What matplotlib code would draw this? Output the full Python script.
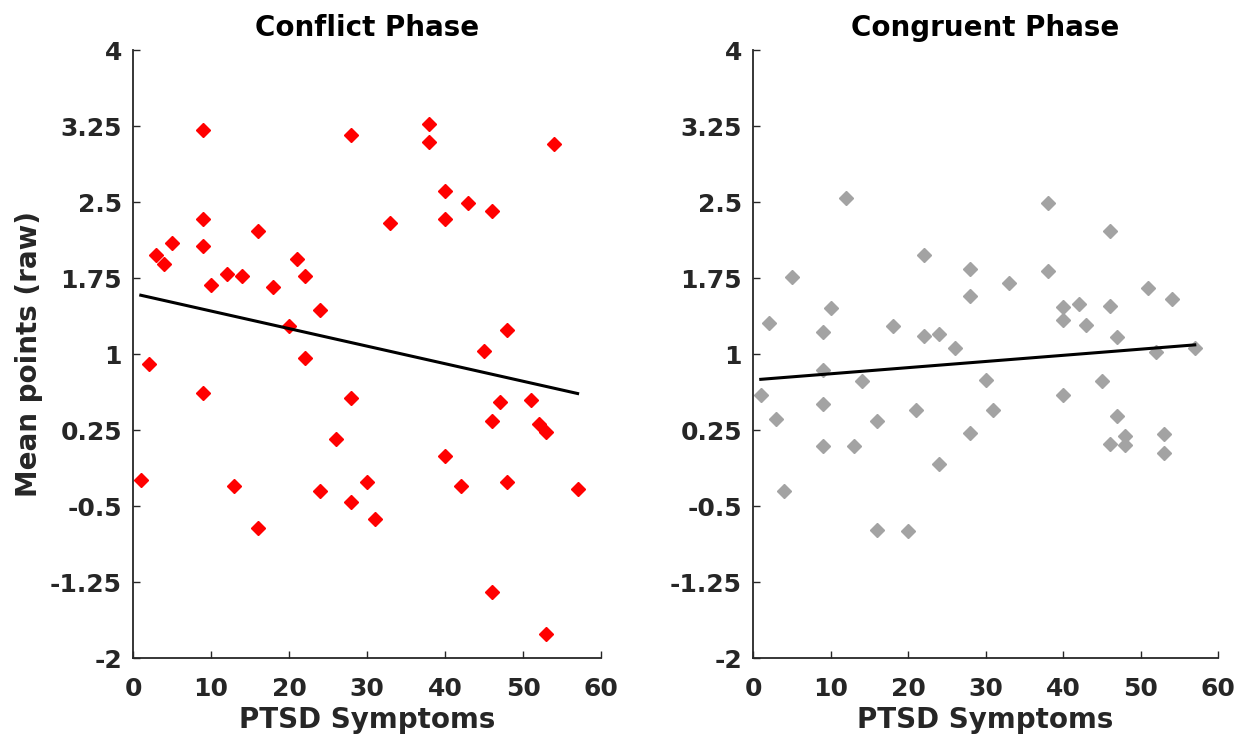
import matplotlib
matplotlib.use("Agg")
import matplotlib.pyplot as plt
import numpy as np

# Conflict phase data
conflict_x = [1, 2, 3, 4, 5, 9, 9, 9, 9, 10, 12, 13, 14, 16, 16, 18, 20, 21, 22, 22,
              24, 24, 26, 28, 28, 28, 30, 31, 33, 38, 38, 40, 40, 40, 42, 43, 45, 46, 46, 46,
              47, 48, 48, 51, 52, 53, 53, 54, 57]
conflict_y = [-0.24, 0.90, 1.98, 1.89, 2.10, 3.21, 2.33, 2.07, 0.62, 1.68, 1.79, -0.30, 1.77, 2.21, -0.72, 1.66, 1.28, 1.94, 1.77, 0.96,
              1.43, -0.35, 0.16, 3.16, 0.57, -0.46, -0.26, -0.63, 2.29, 3.27, 3.09, 2.61, 2.33, -0.01, -0.30, 2.49, 1.03, 2.41, 0.34, -1.35,
              0.53, 1.24, -0.26, 0.55, 0.31, 0.23, -1.76, 3.07, -0.33]

# Congruent phase data
congruent_x = [1, 2, 3, 4, 5, 9, 9, 9, 9, 10, 12, 13, 14, 16, 16, 18, 20, 21, 22, 22,
               24, 24, 26, 28, 28, 28, 30, 31, 33, 38, 38, 40, 40, 40, 42, 43, 45, 46, 46, 46,
               47, 47, 48, 48, 51, 52, 53, 53, 54, 57]
congruent_y = [0.60, 1.31, 0.36, -0.35, 1.76, 1.22, 0.84, 0.51, 0.09, 1.45, 2.54, 0.09, 0.73, 0.34, -0.74, 1.28, -0.75, 0.45, 1.98, 1.18,
               1.20, -0.09, 1.06, 1.84, 1.57, 0.22, 0.74, 0.45, 1.70, 2.49, 1.82, 1.46, 1.34, 0.60, 1.49, 1.29, 0.73, 2.21, 1.47, 0.11,
               1.17, 0.39, 0.19, 0.10, 1.65, 1.02, 0.21, 0.02, 1.54, 1.06]

# Fitted regression lines (endpoints)
fit_x = [1, 57]
conflict_fit_y = [1.58, 0.61]
congruent_fit_y = [0.75, 1.09]

titles = ["Conflict Phase", "Congruent Phase"]
yticks = [-2, -1.25, -0.5, 0.25, 1, 1.75, 2.5, 3.25, 4]
ytick_labels = ["-2", "-1.25", "-0.5", "0.25", "1", "1.75", "2.5", "3.25", "4"]
xticks = [0, 10, 20, 30, 40, 50, 60]

plt.rcParams['font.family'] = ['DejaVu Sans']
fig = plt.figure(figsize=(12.45, 7.37), dpi=100)
ax1 = fig.add_axes([133/1245, 1-658/737, 468/1245, 608/737])
ax2 = fig.add_axes([753/1245, 1-658/737, 465/1245, 608/737])

axis_col = '#262626'
for ax, xs, ys, fy, col, title in [
        (ax1, conflict_x, conflict_y, conflict_fit_y, '#ff0000', titles[0]),
        (ax2, congruent_x, congruent_y, congruent_fit_y, '#a3a3a3', titles[1])]:
    ax.plot(xs, ys, linestyle='none', marker='D', ms=7.5, color=col, mec=col)
    ax.plot(fit_x, fy, color='black', lw=2.2)
    ax.set_xlim(0, 60)
    ax.set_ylim(-2, 4)
    ax.set_xticks(xticks)
    ax.set_xticklabels([str(t) for t in xticks])
    ax.set_yticks(yticks)
    ax.set_yticklabels(ytick_labels)
    for s in ['top', 'right']:
        ax.spines[s].set_visible(False)
    for s in ['left', 'bottom']:
        ax.spines[s].set_color(axis_col)
        ax.spines[s].set_linewidth(1.3)
    ax.tick_params(direction='in', length=5, width=1, colors=axis_col, labelsize=18)
    ax.tick_params(axis='x', pad=14)
    ax.tick_params(axis='y', pad=8)
    for lab in ax.get_xticklabels() + ax.get_yticklabels():
        lab.set_fontweight('bold')
    ax.set_title(title, fontsize=20, fontweight='bold', pad=10)
    ax.set_xlabel("PTSD Symptoms", fontsize=20, fontweight='bold', color=axis_col, labelpad=3)

ax1.set_ylabel("Mean points (raw)", fontsize=20, fontweight='bold', color=axis_col, labelpad=5)

fig.savefig("out.png", dpi=100)
